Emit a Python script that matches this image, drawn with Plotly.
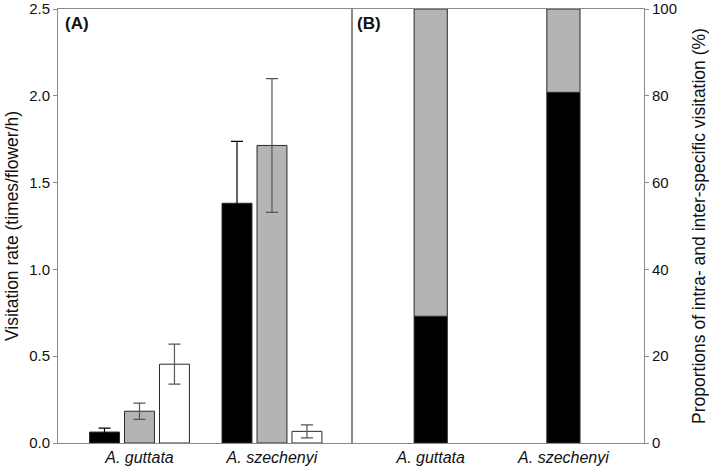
import plotly.graph_objects as go

species = ["A. guttata", "A. szechenyi"]

# Panel A: visitation rates (times/flower/h)
rate_black = [0.063, 1.381]
err_black = [0.023, 0.356]
rate_gray = [0.183, 1.714]
err_gray = [0.047, 0.385]
rate_white = [0.454, 0.067]
err_white = [0.115, 0.037]

# Panel B: proportions (%)
prop_intra = [29.2, 80.8]
prop_inter = [70.8, 19.2]

font_family = "Liberation Sans, Arial, sans-serif"
axis_col = "#8a8a8a"
outline = "#2a2a2a"
err_col = "#555555"

fig = go.Figure()

bw = 0.226
step = 0.264
for vals, errs, col, ecol, off in [
    (rate_black, err_black, "#000000", "#000000", -bw / 2 - step),
    (rate_gray, err_gray, "#b4b4b4", err_col, -bw / 2),
    (rate_white, err_white, "#ffffff", err_col, -bw / 2 + step),
]:
    fig.add_trace(go.Bar(
        x=species, y=vals, width=bw, offset=off,
        marker=dict(color=col, line=dict(color=outline, width=1)),
        error_y=dict(type="data", array=errs, color=ecol, thickness=1.2, width=6),
        xaxis="x", yaxis="y", showlegend=False,
    ))

fig.add_trace(go.Bar(
    x=species, y=prop_intra, width=0.25,
    marker=dict(color="#000000", line=dict(color=outline, width=1)),
    xaxis="x2", yaxis="y2", showlegend=False,
))
fig.add_trace(go.Bar(
    x=species, y=prop_inter, base=prop_intra, width=0.25,
    marker=dict(color="#b4b4b4", line=dict(color=outline, width=1)),
    xaxis="x2", yaxis="y2", showlegend=False,
))

split = (352 - 58) / (644 - 58)

fig.update_layout(
    width=709, height=470,
    margin=dict(l=58, r=65, t=9, b=27, pad=0),
    barmode="overlay",
    plot_bgcolor="white", paper_bgcolor="white",
    font=dict(family=font_family, color="#111111", size=15),
    xaxis=dict(
        domain=[0, split], type="category", range=[-0.615, 1.604],
        showline=True, mirror=True, linecolor=axis_col, linewidth=1,
        ticks="", showgrid=False, zeroline=False, automargin=False,
        tickfont=dict(size=16, style="italic", family=font_family),
        anchor="y",
    ),
    yaxis=dict(
        range=[0, 2.5], tickvals=[0, 0.5, 1.0, 1.5, 2.0, 2.5],
        ticktext=["0.0", "0.5", "1.0", "1.5", "2.0", "2.5"],
        showline=True, mirror=True, linecolor=axis_col, linewidth=1,
        ticks="outside", ticklen=4, tickcolor=axis_col,
        showgrid=False, zeroline=False, automargin=False,
        ticklabeloverflow="allow",
        tickfont=dict(size=15),
        title=dict(text="Visitation rate (times/flower/h)", font=dict(size=17.5), standoff=6),
        anchor="x",
    ),
    xaxis2=dict(
        domain=[split, 1], type="category", range=[-0.593, 1.607],
        showline=True, mirror=True, linecolor=axis_col, linewidth=1,
        ticks="", showgrid=False, zeroline=False, automargin=False,
        tickfont=dict(size=16, style="italic", family=font_family),
        anchor="y2",
    ),
    yaxis2=dict(
        range=[0, 100], tickvals=[0, 20, 40, 60, 80, 100],
        side="right",
        showline=True, mirror=True, linecolor=axis_col, linewidth=1,
        ticks="outside", ticklen=4, tickcolor=axis_col,
        showgrid=False, zeroline=False, automargin=False,
        ticklabeloverflow="allow",
        tickfont=dict(size=15),
        title=dict(text="Proportions of intra- and inter-specific visitation (%)", font=dict(size=17.5), standoff=18),
        anchor="x2",
    ),
    annotations=[
        dict(text="<b>(A)</b>", x=0.008, y=0.992, xref="paper", yref="paper",
             xanchor="left", yanchor="top", showarrow=False, font=dict(size=17)),
        dict(text="<b>(B)</b>", x=split + 0.005, y=0.992, xref="paper", yref="paper",
             xanchor="left", yanchor="top", showarrow=False, font=dict(size=17)),
    ],
)

fig.write_html(
    "out.html",
    config={"displayModeBar": False},
    post_script="document.body.style.margin='0';document.body.style.overflow='hidden';",
)
